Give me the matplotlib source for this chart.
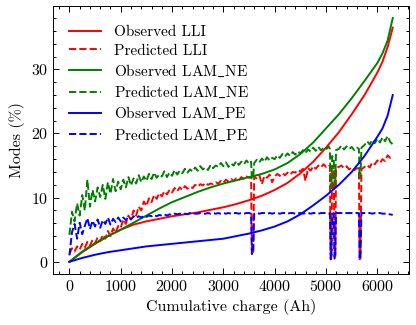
import matplotlib
matplotlib.use('Agg')
import matplotlib.pyplot as plt
import numpy as np

# observed modes (smooth curves)
obs_x = [0, 250, 500, 750, 1000, 1250, 1500, 1750, 2000, 2250, 2500, 2750, 3000,
         3250, 3500, 3750, 4000, 4250, 4500, 4750, 5000, 5250, 5500, 5750, 6000,
         6100, 6200, 6300]
obs_lli = [0.0, 1.5, 2.8, 4.0, 5.0, 5.8, 6.3, 6.7, 7.1, 7.4, 7.7, 8.1, 8.5,
           9.0, 9.6, 10.3, 11.2, 12.3, 13.8, 15.6, 17.8, 20.2, 23.0, 26.0, 29.5,
           31.2, 33.5, 36.5]
obs_lam_ne = [0.0, 1.6, 2.9, 4.0, 5.0, 6.1, 7.2, 8.3, 9.3, 10.1, 10.9, 11.6, 12.2,
              12.7, 13.2, 13.7, 14.4, 15.4, 16.8, 18.6, 20.8, 23.0, 25.5, 28.2, 31.0,
              32.5, 34.5, 38.0]
obs_lam_pe = [0.0, 0.6, 1.1, 1.5, 1.8, 2.1, 2.4, 2.6, 2.8, 3.0, 3.2, 3.4, 3.6,
              4.0, 4.4, 4.9, 5.5, 6.3, 7.4, 8.8, 10.3, 12.0, 14.0, 16.5, 19.5,
              20.8, 22.8, 26.0]

# predicted modes (noisy, with a few drop-outs)
pred_x = [0, 50, 100, 150, 200, 250, 300, 350, 400, 450,
          500, 550, 600, 650, 700, 750, 800, 850, 900, 950,
          1000, 1050, 1100, 1150, 1200, 1250, 1300, 1350, 1400, 1450,
          1500, 1550, 1600, 1650, 1700, 1750, 1800, 1850, 1900, 1950,
          2000, 2050, 2100, 2150, 2200, 2250, 2300, 2350, 2400, 2450,
          2500, 2550, 2600, 2650, 2700, 2750, 2800, 2850, 2900, 2950,
          3000, 3050, 3100, 3150, 3200, 3250, 3300, 3350, 3400, 3450,
          3500, 3540, 3555, 3580,
          3600, 3650, 3700, 3750, 3800, 3850, 3900, 3950, 4000, 4050,
          4100, 4150, 4200, 4250, 4300, 4350, 4400, 4450, 4500, 4550,
          4600, 4650, 4700, 4750, 4800, 4850, 4900, 4950, 5000, 5050,
          5075, 5090, 5105, 5120, 5150, 5165, 5180, 5195,
          5250, 5300, 5350, 5400, 5450, 5500, 5550, 5600,
          5640, 5655, 5670, 5690,
          5750, 5800, 5850, 5900, 5950, 6000, 6050, 6100, 6150, 6200, 6250, 6300]

pred_lli = [1.2, 2.1, 1.6, 2.4, 1.9, 2.8, 2.2, 3.1, 2.5, 3.4,
            2.9, 3.8, 3.2, 4.2, 3.6, 4.8, 4.0, 5.2, 4.5, 5.6,
            5.3, 6.6, 5.9, 7.2, 6.6, 8.0, 7.2, 8.6, 8.0, 9.4,
            8.7, 9.9, 9.3, 10.4, 9.8, 10.7, 10.2, 11.0, 10.5, 11.2,
            10.8, 11.5, 11.0, 11.6, 11.2, 11.8, 11.4, 11.7, 11.5, 12.0,
            11.7, 12.1, 11.9, 12.3, 12.0, 12.2, 12.1, 12.4, 12.2, 12.6,
            12.3, 12.8, 12.5, 12.9, 12.6, 13.0, 12.7, 13.2, 12.9, 13.3,
            13.1, 13.2, 1.4, 1.5,
            13.3, 13.0, 13.5, 12.1, 13.4, 13.1, 13.6, 12.4, 13.3, 13.7,
            13.4, 13.8, 13.5, 13.9, 13.6, 14.0, 13.9, 14.3, 14.1, 14.5,
            12.6, 14.6, 14.2, 14.9, 14.5, 15.0, 14.7, 15.2, 14.8, 15.1,
            14.9, 0.4, 0.6, 14.8, 15.0, 0.8, 0.8, 14.6,
            14.8, 15.0, 14.6, 14.9, 14.4, 14.7, 14.3, 14.6,
            14.5, 0.4, 0.5, 14.4,
            14.8, 15.1, 14.7, 15.5, 15.2, 15.8, 15.4, 16.0, 15.7, 16.6, 16.2, 16.4]

pred_lam_ne = [4.2, 7.8, 6.3, 9.1, 7.2, 10.4, 8.0, 12.8, 8.6, 11.2,
               9.4, 11.6, 10.1, 12.0, 9.8, 12.4, 10.6, 12.9, 11.0, 12.5,
               11.3, 12.8, 11.6, 13.2, 11.9, 13.0, 12.2, 13.5, 12.4, 13.3,
               12.6, 13.7, 12.9, 13.9, 13.1, 13.6, 13.3, 14.1, 13.2, 13.9,
               13.4, 14.3, 13.6, 14.2, 13.8, 14.5, 13.9, 14.4, 14.1, 14.7,
               14.2, 14.9, 14.4, 14.7, 14.3, 15.1, 14.6, 15.0, 14.8, 15.4,
               14.9, 15.5, 14.8, 15.3, 15.0, 15.7, 15.1, 15.6, 15.2, 15.8,
               15.3, 15.6, 13.0, 13.2,
               15.4, 15.9, 15.5, 16.1, 15.6, 16.3, 15.8, 16.2, 16.0, 16.6,
               16.2, 16.8, 16.4, 16.9, 16.5, 17.1, 16.7, 17.2, 16.9, 17.4,
               17.0, 17.5, 17.2, 17.8, 17.3, 17.9, 17.4, 17.7, 17.5, 18.0,
               17.6, 11.5, 11.8, 16.5, 16.0, 11.8, 12.0, 17.4,
               17.6, 18.1, 17.5, 18.0, 17.6, 17.9, 17.4, 17.8,
               17.6, 13.0, 13.2, 17.8,
               18.2, 18.8, 18.3, 19.0, 18.5, 19.2, 18.6, 19.4, 18.8, 19.6, 18.7, 18.3]

pred_lam_pe = [1.0, 4.6, 5.9, 3.6, 6.1, 4.3, 5.6, 6.8, 5.1, 6.4,
               5.5, 6.6, 5.3, 6.5, 5.9, 6.9, 5.8, 6.7, 6.2, 6.9,
               6.3, 6.9, 6.5, 7.0, 6.6, 7.1, 6.8, 7.1, 6.9, 7.2,
               7.0, 7.2, 7.1, 7.3, 7.1, 7.3, 7.2, 7.4, 7.2, 7.4,
               7.3, 7.5, 7.4, 7.5, 7.4, 7.5, 7.4, 7.6, 7.5, 7.5,
               7.5, 7.6, 7.5, 7.5, 7.6, 7.5, 7.6, 7.5, 7.6, 7.5,
               7.6, 7.5, 7.6, 7.5, 7.6, 7.6, 7.5, 7.6, 7.5, 7.6,
               7.6, 7.5, 1.2, 1.3,
               7.5, 7.6, 7.5, 7.6, 7.6, 7.5, 7.6, 7.5, 7.6, 7.6,
               7.5, 7.6, 7.6, 7.5, 7.6, 7.6, 7.5, 7.6, 7.6, 7.5,
               7.6, 7.6, 7.5, 7.6, 7.6, 7.5, 7.6, 7.6, 7.6, 7.5,
               7.6, 0.4, 0.5, 7.4, 7.6, 0.5, 0.6, 7.6,
               7.6, 7.6, 7.5, 7.6, 7.6, 7.6, 7.5, 7.6,
               7.6, 0.4, 0.5, 7.6,
               7.6, 7.6, 7.6, 7.5, 7.6, 7.6, 7.6, 7.5, 7.5, 7.4, 7.4, 7.3]

# --- style (science-like) ---
plt.rcParams['font.family'] = 'serif'
plt.rcParams['font.serif'] = ['cmr10', 'DejaVu Serif']
plt.rcParams['mathtext.fontset'] = 'cm'
plt.rcParams['axes.formatter.use_mathtext'] = True
plt.rcParams['font.size'] = 11.5
plt.rcParams['axes.linewidth'] = 0.7
for ax_name in ['xtick', 'ytick']:
    plt.rcParams[f'{ax_name}.direction'] = 'in'
    plt.rcParams[f'{ax_name}.major.size'] = 4
    plt.rcParams[f'{ax_name}.minor.size'] = 2
    plt.rcParams[f'{ax_name}.major.width'] = 0.7
    plt.rcParams[f'{ax_name}.minor.width'] = 0.7
    plt.rcParams[f'{ax_name}.minor.visible'] = True
    plt.rcParams[f'{ax_name}.labelsize'] = 11.5
plt.rcParams['xtick.top'] = True
plt.rcParams['ytick.right'] = True

fig = plt.figure(figsize=(4.16, 3.25), dpi=100)
ax = fig.add_axes([0.128, 0.157, 0.855, 0.825])

lw = 1.4
ax.plot(obs_x, obs_lli, color='red', lw=lw, label='Observed LLI')
ax.plot(pred_x, pred_lli, color='red', lw=lw, ls='--', label='Predicted LLI')
ax.plot(obs_x, obs_lam_ne, color='green', lw=lw, label=r'Observed LAM$\_$NE')
ax.plot(pred_x, pred_lam_ne, color='green', lw=lw, ls='--', label=r'Predicted LAM$\_$NE')
ax.plot(obs_x, obs_lam_pe, color='blue', lw=lw, label=r'Observed LAM$\_$PE')
ax.plot(pred_x, pred_lam_pe, color='blue', lw=lw, ls='--', label=r'Predicted LAM$\_$PE')

ax.set_xlabel('Cumulative charge (Ah)', fontsize=11.5)
ax.set_ylabel('Modes (%)', fontsize=11.5)
ax.set_xticks([0, 1000, 2000, 3000, 4000, 5000, 6000])
ax.set_yticks([0, 10, 20, 30])
ax.legend(loc='upper left', bbox_to_anchor=(0, 0.985), frameon=False, fontsize=11,
          handlelength=2.1, handletextpad=0.9, labelspacing=0.33, borderaxespad=0.6)

fig.savefig('out.png', dpi=100)
